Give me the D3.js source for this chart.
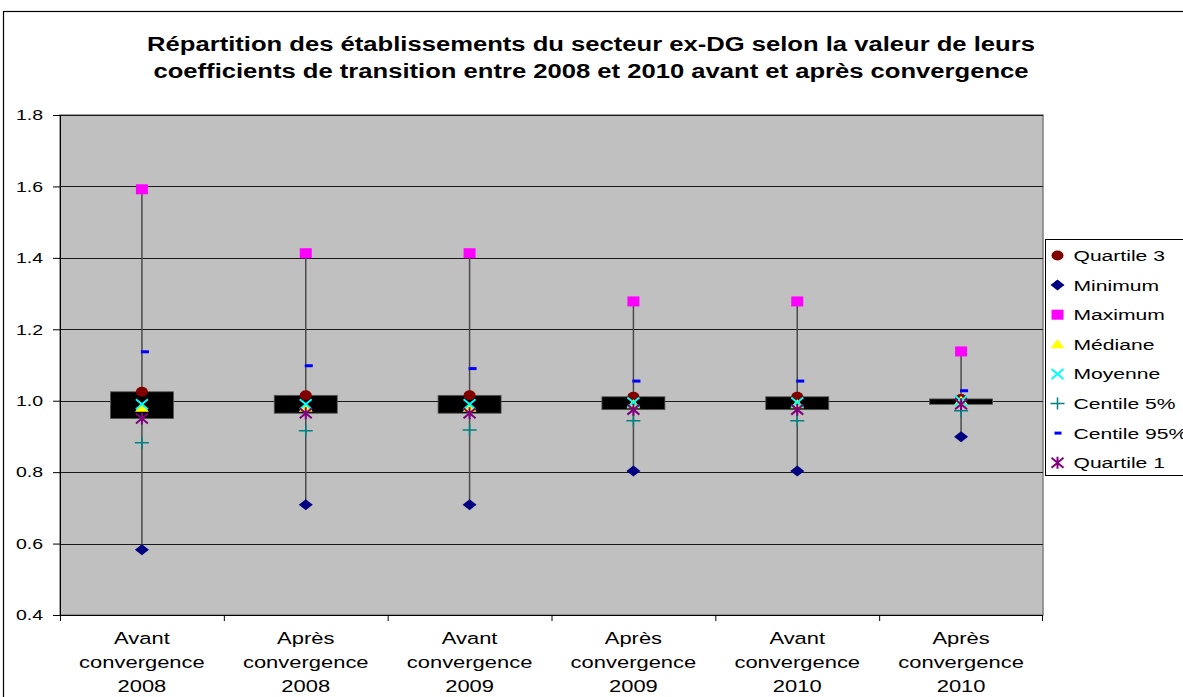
<!DOCTYPE html>
<html>
<head>
<meta charset="utf-8">
<script src="https://cdn.jsdelivr.net/npm/d3@7"></script>
<style>
  body { margin: 0; background: #fff; }
  svg { font-family: "Liberation Sans", Arial, sans-serif; }
</style>
</head>
<body>
<script>
// categories (one array per line of the label)
const categories = ["Avant 2008", "Après 2008", "Avant 2009", "Après 2009", "Avant 2010", "Après 2010"]
const categoryLines = [
  ["Avant", "convergence", "2008"],
  ["Après", "convergence", "2008"],
  ["Avant", "convergence", "2009"],
  ["Après", "convergence", "2009"],
  ["Avant", "convergence", "2010"],
  ["Après", "convergence", "2010"]
]

// series values
const quartile3 = [1.025, 1.015, 1.015, 1.011, 1.011, 1.005]
const minimum   = [0.583, 0.709, 0.709, 0.803, 0.803, 0.899]
const maximum   = [1.592, 1.413, 1.413, 1.278, 1.278, 1.138]
const mediane   = [0.980, 0.980, 0.980, 0.990, 0.990, 1.000]
const moyenne   = [0.990, 0.990, 0.990, 0.995, 0.995, 1.000]
const centile5  = [0.882, 0.916, 0.918, 0.944, 0.944, 0.972]
const centile95 = [1.137, 1.098, 1.090, 1.055, 1.055, 1.028]
const quartile1 = [0.950, 0.965, 0.965, 0.975, 0.975, 0.990]

const yTicks = [0.4, 0.6, 0.8, 1.0, 1.2, 1.4, 1.6, 1.8]
const seriesNames = ["Quartile 3", "Minimum", "Maximum", "Médiane", "Moyenne", "Centile 5%", "Centile 95%", "Quartile 1"]
const titleLines = [
  "Répartition des établissements du secteur ex-DG selon la valeur de leurs",
  "coefficients de transition entre 2008 et 2010 avant et après convergence"
]

const W = 1183, H = 697
const plot = {left: 60, right: 1043, top: 115, bottom: 615}
// the original rendering is stretched horizontally
const stretch = 1.3

const svg = d3.select("body").append("svg")
  .attr("width", W)
  .attr("height", H)

// chart area border
svg.append("rect")
  .attr("x", 3.5).attr("y", 11.5)
  .attr("width", W + 10).attr("height", H + 10)
  .attr("fill", "#fff")
  .attr("stroke", "#000")
  .attr("stroke-width", 1.2)

const x = d3.scaleBand()
  .domain(categories)
  .range([plot.left, plot.right])
  .padding(0)

const y = d3.scaleLinear()
  .domain([0.4, 1.8])
  .range([plot.bottom, plot.top])

// title
svg.append("g")
  .selectAll("text")
  .data(titleLines)
  .enter()
  .append("text")
  .attr("transform", (d, i) => "translate(591," + (51 + i * 27) + ") scale(1.22,1)")
  .attr("text-anchor", "middle")
  .attr("font-weight", "bold")
  .attr("font-size", 21)
  .attr("fill", "#000")
  .text(d => d)

// plot area
svg.append("rect")
  .attr("x", plot.left).attr("y", plot.top)
  .attr("width", plot.right - plot.left)
  .attr("height", plot.bottom - plot.top)
  .attr("fill", "#c0c0c0")
  .attr("stroke", "#808080")
  .attr("stroke-width", 1.5)

// gridlines
svg.append("g")
  .selectAll("line")
  .data(yTicks)
  .enter()
  .append("line")
  .attr("x1", plot.left).attr("x2", plot.right)
  .attr("y1", d => Math.round(y(d)) + 0.5)
  .attr("y2", d => Math.round(y(d)) + 0.5)
  .attr("stroke", "#1a1a1a")
  .attr("stroke-width", 1)

// y axis
const yAxis = d3.axisLeft(y)
  .tickValues(yTicks)
  .tickFormat(d3.format(".1f"))
  .tickSize(7)

const gy = svg.append("g")
  .attr("transform", "translate(" + plot.left + ",0)")
  .call(yAxis)
gy.selectAll("text")
  .attr("x", 0)
  .attr("transform", "translate(-17,0) scale(" + stretch + ",1)")
  .attr("font-size", 15)
  .attr("fill", "#000")
gy.select(".domain").attr("stroke", "#000")

// x axis: ticks on the category boundaries
const gx = svg.append("g")
  .attr("transform", "translate(0," + plot.bottom + ")")
gx.append("line")
  .attr("x1", plot.left).attr("x2", plot.right)
  .attr("y1", 0.5).attr("y2", 0.5)
  .attr("stroke", "#000")
gx.selectAll(".tick")
  .data(categories)
  .enter()
  .append("line")
  .attr("x1", d => x(d) + 0.5).attr("x2", d => x(d) + 0.5)
  .attr("y1", 0).attr("y2", 6)
  .attr("stroke", "#000")
gx.append("line")
  .attr("x1", plot.right - 0.5).attr("x2", plot.right - 0.5)
  .attr("y1", 0).attr("y2", 6)
  .attr("stroke", "#000")

categories.forEach(function(c, i) {
  gx.selectAll(null)
    .data(categoryLines[i])
    .enter()
    .append("text")
    .attr("transform", (d, j) => "translate(" + (x(c) + x.bandwidth() / 2) + "," + (29 + j * 24) + ") scale(1.33,1)")
    .attr("text-anchor", "middle")
    .attr("font-size", 16.5)
    .attr("fill", "#000")
    .text(d => d)
})

const cx = i => x(categories[i]) + x.bandwidth() / 2

// high-low lines
svg.append("g")
  .selectAll("line")
  .data(categories)
  .enter()
  .append("line")
  .attr("x1", (d, i) => cx(i)).attr("x2", (d, i) => cx(i))
  .attr("y1", (d, i) => y(maximum[i]))
  .attr("y2", (d, i) => y(minimum[i]))
  .attr("stroke", "#4a4a4a")
  .attr("stroke-width", 1.5)

// boxes (quartile 1 to quartile 3)
const boxW = 63
svg.append("g")
  .selectAll("rect")
  .data(categories)
  .enter()
  .append("rect")
  .attr("x", (d, i) => cx(i) - boxW / 2)
  .attr("y", (d, i) => y(quartile3[i]))
  .attr("width", boxW)
  .attr("height", (d, i) => y(quartile1[i]) - y(quartile3[i]))
  .attr("fill", "#000")
  .attr("stroke", "#555")
  .attr("stroke-width", 0.8)

// marker drawing helpers
function drawMarker(g, type, color) {
  if (type === "circle") {
    g.append("ellipse").attr("rx", 6).attr("ry", 5).attr("fill", color)
  } else if (type === "diamond") {
    g.append("path").attr("d", "M-7,0L0,-5.5L7,0L0,5.5Z").attr("fill", color)
  } else if (type === "square") {
    g.append("rect").attr("x", -6).attr("y", -5).attr("width", 12).attr("height", 10).attr("fill", color)
  } else if (type === "triangle") {
    g.append("path").attr("d", "M-7,4L0,-5L7,4Z").attr("fill", color)
  } else if (type === "x") {
    g.append("path").attr("d", "M-6,-5L6,5M-6,5L6,-5")
      .attr("stroke", color).attr("stroke-width", 2).attr("fill", "none")
  } else if (type === "plus") {
    g.append("path").attr("d", "M-7,0L7,0M0,-6L0,6")
      .attr("stroke", color).attr("stroke-width", 1.5).attr("fill", "none")
  } else if (type === "dash") {
    g.append("rect").attr("x", -1).attr("y", -1.5).attr("width", 8).attr("height", 3).attr("fill", color)
  } else if (type === "star") {
    g.append("path").attr("d", "M-6,-5L6,5M-6,5L6,-5M0,-6L0,6")
      .attr("stroke", color).attr("stroke-width", 2).attr("fill", "none")
  }
}

const series = [
  {name: seriesNames[0], values: quartile3, type: "circle",   color: "#800000"},
  {name: seriesNames[1], values: minimum,   type: "diamond",  color: "#000080"},
  {name: seriesNames[2], values: maximum,   type: "square",   color: "#ff00ff"},
  {name: seriesNames[3], values: mediane,   type: "triangle", color: "#ffff00"},
  {name: seriesNames[4], values: moyenne,   type: "x",        color: "#00ffff"},
  {name: seriesNames[5], values: centile5,  type: "plus",     color: "#008080"},
  {name: seriesNames[6], values: centile95, type: "dash",     color: "#0000ff"},
  {name: seriesNames[7], values: quartile1, type: "star",     color: "#800080"}
]

series.forEach(function(s) {
  const g = svg.append("g").attr("class", "series")
  s.values.forEach(function(v, i) {
    const m = g.append("g")
      .attr("transform", "translate(" + cx(i) + "," + y(v) + ")")
    drawMarker(m, s.type, s.color)
  })
})

// legend
const legend = svg.append("g")
  .attr("transform", "translate(1045.5,239.5)")
legend.append("rect")
  .attr("width", 160).attr("height", 236)
  .attr("fill", "#fff")
  .attr("stroke", "#000")

const item = legend.selectAll(".item")
  .data(series)
  .enter()
  .append("g")
  .attr("class", "item")
  .attr("transform", (d, i) => "translate(0," + (16 + i * 29.6) + ")")

item.each(function(d) {
  const m = d3.select(this).append("g").attr("transform", "translate(12,0)")
  if (d.type === "dash") {
    m.append("rect").attr("x", -3).attr("y", -1.5).attr("width", 7).attr("height", 3).attr("fill", d.color)
  } else {
    drawMarker(m, d.type, d.color)
  }
})

item.append("text")
  .attr("transform", "translate(28,5.5) scale(1.36,1)")
  .attr("font-size", 15.5)
  .attr("fill", "#000")
  .text(d => d.name)
</script>
</body>
</html>
